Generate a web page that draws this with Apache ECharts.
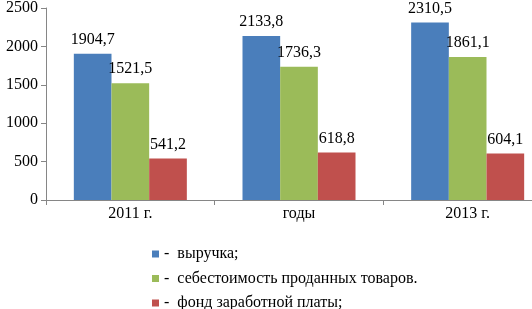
<!DOCTYPE html>
<html>
<head>
<meta charset="utf-8">
<script src="https://cdn.jsdelivr.net/npm/echarts@6/dist/echarts.min.js"></script>
<style>
html,body{margin:0;padding:0;overflow:hidden;background:#fff;width:532px;height:309px;}
#c{width:552px;height:340px;}
</style>
</head>
<body>
<div id="c"></div>
<script>
var categories = ['2011 г.', 'годы', '2013 г.'];
var seriesNames = ['выручка;', 'себестоимость проданных товаров.', 'фонд заработной платы;'];
var revenue = [1904.7, 2133.8, 2310.5];
var cost = [1521.5, 1736.3, 1861.1];
var payroll = [541.2, 618.8, 604.1];
var yTicks = [0, 500, 1000, 1500, 2000, 2500];

var colors = ['#4a7ebb', '#9bbb59', '#c0504d'];
var font = 'Liberation Serif';
var chart = echarts.init(document.getElementById('c'));

function mk(name, data, color) {
  return {
    name: name, type: 'bar', data: data,
    barGap: '0%', barCategoryGap: '33%',
    itemStyle: {color: color},
    label: {
      show: true, position: 'top', distance: 6,
      fontFamily: font, fontSize: 16, color: '#000',
      formatter: function (p) { return String(p.value).replace('.', ','); }
    }
  };
}

chart.setOption({
  animation: false,
  grid: {left: 46, right: 0, top: 4, bottom: 140, containLabel: false},
  xAxis: {
    type: 'category', data: categories,
    axisLine: {lineStyle: {color: '#868686', width: 1}},
    axisTick: {show: true, length: 5, lineStyle: {color: '#868686'}},
    axisLabel: {fontFamily: font, fontSize: 16, color: '#000', margin: 6}
  },
  yAxis: {
    type: 'value', min: yTicks[0], max: yTicks[yTicks.length - 1], interval: 500,
    axisLine: {show: true, lineStyle: {color: '#868686', width: 1}},
    axisTick: {show: true, length: 5, lineStyle: {color: '#868686'}},
    splitLine: {show: false},
    axisLabel: {fontFamily: font, fontSize: 16, color: '#000', margin: 8,
      formatter: function (v) { return String(v); }}
  },
  legend: {
    orient: 'vertical', left: 147, top: 241,
    itemWidth: 7, itemHeight: 7, itemGap: 8.5, icon: 'rect',
    data: seriesNames,
    formatter: function (n) { return '-  ' + n; },
    textStyle: {fontFamily: font, fontSize: 16, color: '#000', lineHeight: 16}
  },
  series: [
    mk(seriesNames[0], revenue, colors[0]),
    mk(seriesNames[1], cost, colors[1]),
    mk(seriesNames[2], payroll, colors[2])
  ]
});
</script>
</body>
</html>
